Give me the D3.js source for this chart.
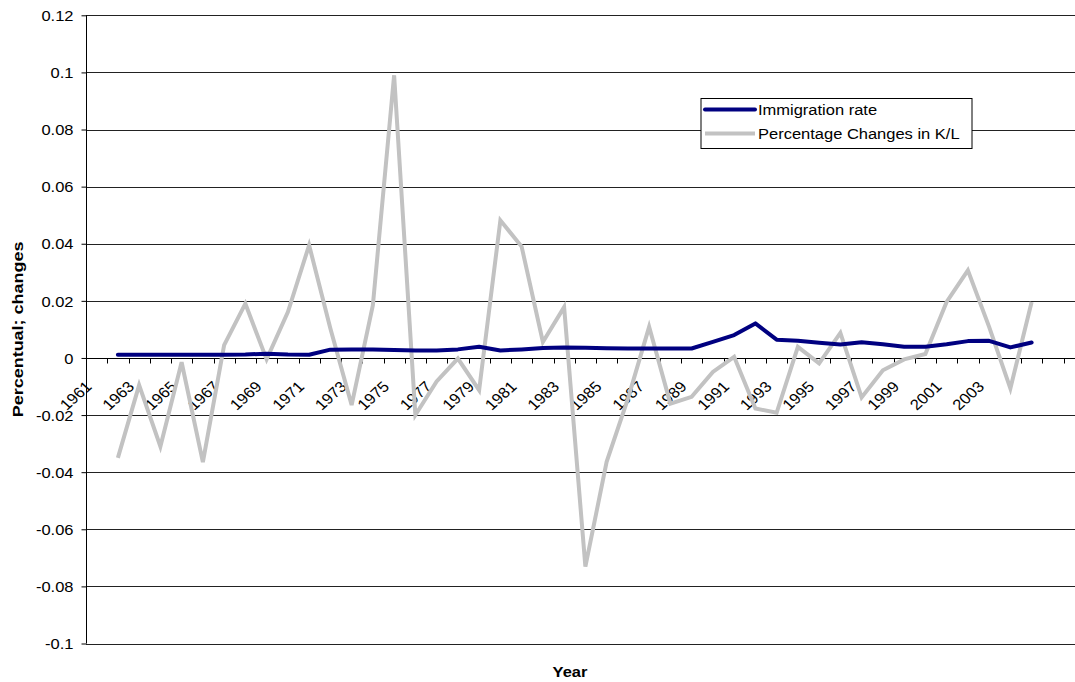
<!DOCTYPE html>
<html>
<head>
<meta charset="utf-8">
<script src="https://cdn.jsdelivr.net/npm/d3@7"></script>
<style>
  html, body { margin: 0; padding: 0; background: #fff; }
  svg { display: block; font-family: Arial, "Liberation Sans", sans-serif; }
</style>
</head>
<body>
<svg id="chart" width="1075" height="682"></svg>
<script>
// Category axis: one slot per year (the axis runs on past the last observation)
const categories = d3.range(1961, 2008);

// Years printed under the axis (every other year)
const tickYears = d3.range(1961, 2004, 2);

// Value-axis ticks
const yTicks = [-0.1, -0.08, -0.06, -0.04, -0.02, 0, 0.02, 0.04, 0.06, 0.08, 0.1, 0.12];
const yTickLabels = ["-0.1", "-0.08", "-0.06", "-0.04", "-0.02", "0", "0.02", "0.04", "0.06", "0.08", "0.1", "0.12"];

// Years that carry observations
const years = d3.range(1962, 2006);

// Immigration rate
const immigration = [
  0.0011, 0.0011, 0.0011, 0.0011, 0.0011, 0.0011, 0.0012, 0.0015, 0.0012, 0.0011,
  0.0029, 0.0030, 0.0030, 0.0028, 0.0026, 0.0026, 0.0030, 0.0039, 0.0026, 0.0030,
  0.0035, 0.0037, 0.0036, 0.0034, 0.0033, 0.0033, 0.0033, 0.0033, 0.0056, 0.0080,
  0.0121, 0.0064, 0.0060, 0.0053, 0.0047, 0.0055, 0.0048, 0.0039, 0.0039, 0.0048,
  0.0059, 0.0060, 0.0037, 0.0054
];

// Percentage changes in K/L
const klChanges = [
  -0.0350, -0.0095, -0.0310, -0.0015, -0.0365, 0.0045, 0.0190, -0.0005, 0.0161, 0.0395,
  0.0103, -0.0165, 0.0185, 0.0990, -0.0200, -0.0082, -0.0002, -0.0113, 0.0482, 0.0390,
  0.0056, 0.0178, -0.0731, -0.0364, -0.0143, 0.0109, -0.0160, -0.0136, -0.0049, 0.0004,
  -0.0177, -0.0192, 0.0039, -0.0019, 0.0088, -0.0138, -0.0043, -0.0005, 0.0014, 0.0196,
  0.0307, 0.0109, -0.0107, 0.0196
];

const seriesNames = ["Immigration rate", "Percentage Changes in K/L"];

const svg = d3.select("#chart");
const plot = { left: 86, top: 15.3, bottom: 643.5, step: 21.25 };
plot.right = plot.left + plot.step * categories.length;

const x = d3.scaleBand().domain(categories).range([plot.left, plot.right]).padding(0);
const y = d3.scaleLinear().domain([-0.1, 0.12]).range([plot.bottom, plot.top]);

const stretch = 1.1;         // horizontal text proportions
const fontSize = 15;

// Horizontal gridlines
svg.append("g")
  .selectAll("line")
  .data(yTicks)
  .join("line")
  .attr("x1", plot.left).attr("x2", plot.right)
  .attr("y1", d => Math.round(y(d)) + 0.5).attr("y2", d => Math.round(y(d)) + 0.5)
  .attr("stroke", "#222").attr("stroke-width", 1.1);

// Value axis
const yAxis = svg.append("g").attr("transform", `translate(${plot.left + 0.5},0)`)
  .call(d3.axisLeft(y).tickValues(yTicks).tickSize(5).tickFormat(""));
yAxis.select(".domain").attr("stroke", "#000").attr("d", `M0,${plot.top}V${plot.bottom}`);
yAxis.selectAll(".tick line").attr("stroke", "#000");
yAxis.selectAll(".tick")
  .append("g")
  .attr("transform", `translate(-13,0) scale(${stretch},1)`)
  .append("text")
  .attr("text-anchor", "end")
  .attr("dy", "0.35em")
  .attr("font-size", fontSize)
  .attr("fill", "#000")
  .text(d => yTickLabels[yTicks.indexOf(d)]);

// Category axis drawn along zero
const y0 = Math.round(y(0)) + 0.5;
const boundaries = categories.map(c => x(c)).concat([plot.right]);
const xAxis = svg.append("g");
xAxis.append("line")
  .attr("x1", plot.left).attr("x2", plot.right)
  .attr("y1", y0).attr("y2", y0)
  .attr("stroke", "#000");
xAxis.selectAll("line.tk")
  .data(boundaries)
  .join("line")
  .attr("class", "tk")
  .attr("x1", d => Math.round(d) + 0.5).attr("x2", d => Math.round(d) + 0.5)
  .attr("y1", y0).attr("y2", y0 + 5)
  .attr("stroke", "#000");

// Year labels turned 45 degrees, widened like the other text
const c45 = Math.SQRT1_2;
const labelMatrix = (tx, ty) =>
  `matrix(${stretch * c45},${-c45},${stretch * c45},${c45},${tx},${ty})`;
xAxis.selectAll("text.lbl")
  .data(tickYears)
  .join("text")
  .attr("class", "lbl")
  .attr("transform", d => labelMatrix(x(d) + x.bandwidth() / 2 - 4, y0 + 29))
  .attr("text-anchor", "end")
  .attr("font-size", fontSize)
  .attr("fill", "#000")
  .text(d => String(d));

// Series lines
const pointX = yr => x(yr) + x.bandwidth() / 2;
const line = d3.line().x(d => pointX(d[0])).y(d => y(d[1]));

svg.append("path")
  .datum(years.map((yr, i) => [yr, klChanges[i]]))
  .attr("d", line)
  .attr("fill", "none")
  .attr("stroke", "#c2c2c2")
  .attr("stroke-width", 4)
  .attr("stroke-linejoin", "miter");

svg.append("path")
  .datum(years.map((yr, i) => [yr, immigration[i]]))
  .attr("d", line)
  .attr("fill", "none")
  .attr("stroke", "#000080")
  .attr("stroke-width", 4)
  .attr("stroke-linejoin", "round")
  .attr("stroke-linecap", "round");

// Legend
const legend = svg.append("g").attr("transform", "translate(701,98.5)");
legend.append("rect")
  .attr("width", 271).attr("height", 50)
  .attr("fill", "#fff").attr("stroke", "#000").attr("stroke-width", 1);
const legendColors = ["#000080", "#c2c2c2"];
seriesNames.forEach((name, i) => {
  const ly = 11 + i * 24;
  legend.append("line")
    .attr("x1", 4).attr("x2", 54).attr("y1", ly).attr("y2", ly)
    .attr("stroke", legendColors[i]).attr("stroke-width", 4)
    .attr("stroke-linecap", i === 0 ? "round" : "butt");
  legend.append("g")
    .attr("transform", `translate(57,${ly + 5.5}) scale(${stretch},1)`)
    .append("text")
    .attr("font-size", fontSize)
    .attr("fill", "#000")
    .text(name);
});

// Axis titles
svg.append("text")
  .attr("transform", `matrix(0,-1.2,1,0,23,${(plot.top + plot.bottom) / 2})`)
  .attr("text-anchor", "middle")
  .attr("font-size", fontSize)
  .attr("font-weight", "bold")
  .text("Percentual; changes");

svg.append("g")
  .attr("transform", `translate(570,677) scale(${stretch},1)`)
  .append("text")
  .attr("text-anchor", "middle")
  .attr("font-size", fontSize)
  .attr("font-weight", "bold")
  .text("Year");
</script>
</body>
</html>
